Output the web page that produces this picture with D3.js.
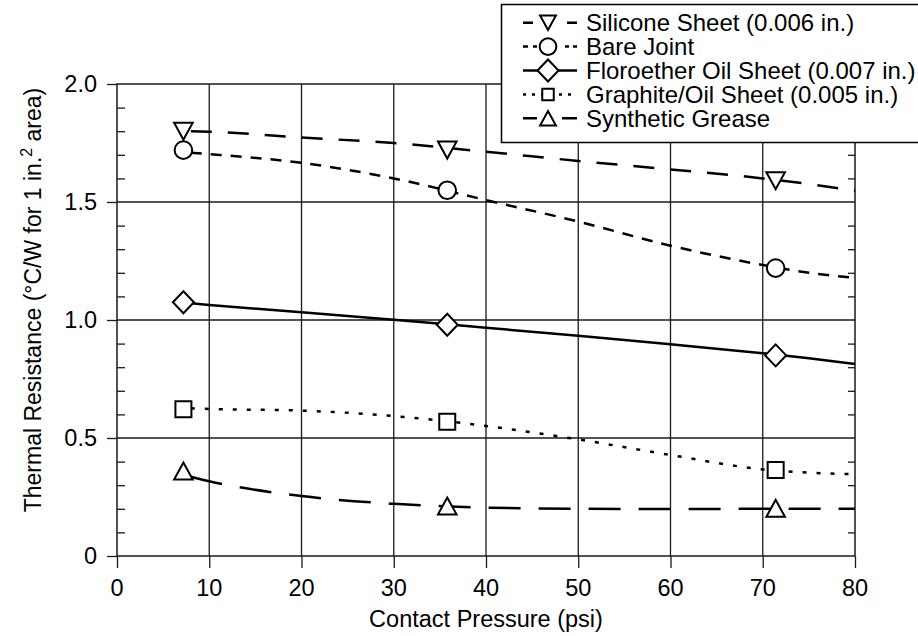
<!DOCTYPE html>
<html>
<head>
<meta charset="utf-8">
<script src="https://cdn.jsdelivr.net/npm/d3@7"></script>
<style>
  html, body { margin: 0; padding: 0; background: #fff; }
  svg { display: block; }
  text { font-family: "Liberation Sans", Arial, Helvetica, sans-serif; fill: #000; }
</style>
</head>
<body>
<svg id="chart" width="918" height="636"></svg>
<script>
// ---------- data ----------
const seriesNames = [
  "Silicone Sheet (0.006 in.)",
  "Bare Joint",
  "Floroether Oil Sheet (0.007 in.)",
  "Graphite/Oil Sheet (0.005 in.)",
  "Synthetic Grease"
];
// measured points (markers)
const markerX = [7.2, 35.8, 71.4];
const siliconePts  = [1.80, 1.72, 1.59];
const barePts      = [1.72, 1.55, 1.22];
const floroPts     = [1.075, 0.98, 0.85];
const graphitePts  = [0.622, 0.569, 0.364];
const greasePts    = [0.36, 0.212, 0.202];
// fitted curves
const curveX        = [8, 10, 20, 30, 40, 50, 60, 70, 75, 80];
const siliconeCurve = [1.800, 1.798, 1.773, 1.750, 1.713, 1.674, 1.638, 1.600, 1.576, 1.548];
const bareCurve     = [1.709, 1.703, 1.666, 1.600, 1.508, 1.417, 1.315, 1.233, 1.200, 1.179];
const floroCurve    = [1.071, 1.064, 1.033, 1.001, 0.967, 0.933, 0.897, 0.859, 0.838, 0.814];
const graphiteCurve = [0.626, 0.623, 0.616, 0.593, 0.551, 0.494, 0.428, 0.367, 0.353, 0.347];
const greaseCurve   = [0.336, 0.317, 0.254, 0.221, 0.205, 0.200, 0.199, 0.200, 0.200, 0.200];
// axes
const xTicks = [0, 10, 20, 30, 40, 50, 60, 70, 80];
const yTicks = [0, 0.5, 1.0, 1.5, 2.0];
const yTickLabels = ["0", "0.5", "1.0", "1.5", "2.0"];
const xTitle = "Contact Pressure (psi)";

// ---------- styles ----------
const series = [
  { name: seriesNames[0], pts: siliconePts, curve: siliconeCurve, shape: "tridown", dash: "21,16", legDash: "10,34,10" },
  { name: seriesNames[1], pts: barePts,     curve: bareCurve,     shape: "circle",  dash: "11,9",  legDash: "5,5,4,28,4,4,4" },
  { name: seriesNames[2], pts: floroPts,    curve: floroCurve,    shape: "diamond", dash: null,    legDash: null },
  { name: seriesNames[3], pts: graphitePts, curve: graphiteCurve, shape: "square",  dash: "4,10",  legDash: "3,6" },
  { name: seriesNames[4], pts: greasePts,   curve: greaseCurve,   shape: "triup",   dash: "32,18", legDash: "14,25,15" }
];

const svg = d3.select("#chart");
const x = d3.scaleLinear().domain([0, 80]).range([117, 855]);
const y = d3.scaleLinear().domain([0, 2]).range([556, 84]);
const gridColor = "#1a1a1a";
const FS = 23.5;
const LFS = 24;

// grid lines
const g = svg.append("g");
g.selectAll(".vg").data(xTicks.slice(1, -1)).enter().append("line")
  .attr("x1", d => x(d)).attr("x2", d => x(d)).attr("y1", y(0)).attr("y2", y(2))
  .attr("stroke", gridColor).attr("stroke-width", 1.3);
g.selectAll(".hg").data(yTicks.slice(1, -1)).enter().append("line")
  .attr("x1", x(0)).attr("x2", x(80)).attr("y1", d => y(d)).attr("y2", d => y(d))
  .attr("stroke", gridColor).attr("stroke-width", 1.3);

// axes using d3 axis generators
const minorY = d3.range(0, 2.0001, 0.1).filter(v => Math.abs(v * 2 - Math.round(v * 2)) > 1e-6);
function styleAxis(sel) {
  sel.select(".domain").remove();
  sel.selectAll(".tick line").attr("stroke", gridColor).attr("stroke-width", 1.3);
  sel.selectAll("text").remove();
}
svg.append("g").attr("transform", `translate(${x(0)},0)`)
  .call(d3.axisLeft(y).tickValues(yTicks).tickSize(10)).call(styleAxis);
svg.append("g").attr("transform", `translate(${x(0)},0)`)
  .call(d3.axisRight(y).tickValues(minorY).tickSize(8)).call(styleAxis);
svg.append("g").attr("transform", `translate(${x(80)},0)`)
  .call(d3.axisLeft(y).tickValues(minorY).tickSize(7)).call(styleAxis);
svg.append("g").attr("transform", `translate(0,${y(0)})`)
  .call(d3.axisBottom(x).tickValues(xTicks).tickSize(12)).call(styleAxis);

// frame
svg.append("rect").attr("x", x(0)).attr("y", y(2)).attr("width", x(80) - x(0)).attr("height", y(0) - y(2))
  .attr("fill", "none").attr("stroke", gridColor).attr("stroke-width", 1.5);

// tick labels
svg.selectAll(".ylab").data(yTicks).enter().append("text")
  .attr("x", 97).attr("y", d => y(d) + 8).attr("text-anchor", "end")
  .attr("font-size", FS).text((d, i) => yTickLabels[i]);
svg.selectAll(".xlab").data(xTicks).enter().append("text")
  .attr("x", d => x(d)).attr("y", 596).attr("text-anchor", "middle")
  .attr("font-size", FS).text(d => d);

// axis titles
svg.append("text").attr("x", x(40)).attr("y", 627).attr("text-anchor", "middle")
  .attr("font-size", FS).text(xTitle);
const yt = svg.append("text").attr("transform", "translate(41,300) rotate(-90)")
  .attr("text-anchor", "middle").attr("font-size", 23);
yt.append("tspan").text("Thermal Resistance (°C/W for 1 in.");
yt.append("tspan").attr("font-size", 16).attr("dy", -9).text("2");
yt.append("tspan").attr("dy", 9).text(" area)");

// marker generator
function markerPath(shape, s) {
  s = s || 1;
  switch (shape) {
    case "tridown": { const w = 9.3 * s, h = 8.5 * s; return `M${-w},${-h}L${w},${-h}L0,${h}Z`; }
    case "triup":   { const w = 9.3 * s, h = 8.5 * s; return `M${-w},${h}L${w},${h}L0,${-h}Z`; }
    case "diamond": { const w = 10.5 * s, h = 11 * s; return `M${-w},0L0,${-h}L${w},0L0,${h}Z`; }
    case "square":  { const a = 8 * s; return `M${-a},${-a}L${a},${-a}L${a},${a}L${-a},${a}Z`; }
    case "circle":  { const r = 8.8 * s; return `M${r},0A${r},${r} 0 1,1 ${-r},0A${r},${r} 0 1,1 ${r},0Z`; }
  }
}

// curves
const line = d3.line().x(d => x(d[0])).y(d => y(d[1])).curve(d3.curveMonotoneX);
series.forEach(s => {
  svg.append("path")
    .datum(curveX.map((cx, i) => [cx, s.curve[i]]))
    .attr("d", line).attr("fill", "none").attr("stroke", "#000")
    .attr("stroke-width", 2.5)
    .attr("stroke-dasharray", s.dash);
});
// markers
series.forEach(s => {
  svg.selectAll(null).data(markerX.map((mx, i) => [mx, s.pts[i]])).enter().append("path")
    .attr("transform", d => `translate(${x(d[0])},${y(d[1])})`)
    .attr("d", markerPath(s.shape)).attr("fill", "#fff")
    .attr("stroke", "#000").attr("stroke-width", 2);
});

// legend
const leg = svg.append("g");
leg.append("rect").attr("x", 501.5).attr("y", 4.5).attr("width", 430).attr("height", 138)
  .attr("fill", "#fff").attr("stroke", "#000").attr("stroke-width", 1.5);
const legScale = d3.scalePoint().domain(seriesNames).range([22.7, 118.3]);
const legShapeScale = { tridown: 0.85, triup: 0.85, circle: 0.95, diamond: 1.0, square: 0.72 };
series.forEach(s => {
  const cy = legScale(s.name);
  leg.append("line").attr("x1", 523).attr("x2", 577).attr("y1", cy).attr("y2", cy)
    .attr("stroke", "#000").attr("stroke-width", 2.5).attr("stroke-dasharray", s.legDash);
  leg.append("path").attr("transform", `translate(548,${cy})`)
    .attr("d", markerPath(s.shape, legShapeScale[s.shape])).attr("fill", "#fff")
    .attr("stroke", "#000").attr("stroke-width", 2);
  leg.append("text").attr("x", 586).attr("y", cy + 8.5).attr("font-size", LFS).text(s.name);
});
</script>
</body>
</html>
